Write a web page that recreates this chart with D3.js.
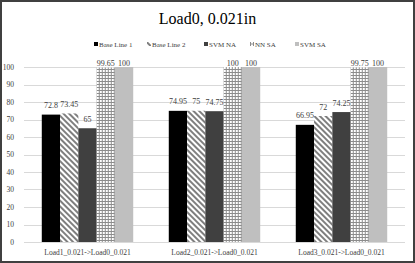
<!DOCTYPE html>
<html>
<head>
<meta charset="utf-8">
<script src="https://cdn.jsdelivr.net/npm/d3@7/dist/d3.min.js"></script>
<style>
  body { margin: 0; background: #fff; }
  svg { display: block; }
</style>
</head>
<body>
<svg width="415" height="263" font-family="'Liberation Serif', 'Times New Roman', serif"></svg>
<script>
// chart data
const categories = ["Load1_0.021->Load0_0.021", "Load2_0.021->Load0_0.021", "Load3_0.021->Load0_0.021"]
const seriesNames = ["Base Line 1", "Base Line 2", "SVM NA", "NN SA", "SVM SA"]
const baseLine1 = [72.8, 74.95, 66.95]
const baseLine2 = [73.45, 75, 72]
const svmNA = [65, 74.75, 74.25]
const nnSA = [99.65, 100, 99.75]
const svmSA = [100, 100, 100]
const yTicks = [0, 10, 20, 30, 40, 50, 60, 70, 80, 90, 100]

const seriesValues = [baseLine1, baseLine2, svmNA, nnSA, svmSA]
const fills = ["#000000", "url(#diag)", "#404040", "url(#grid)", "#bfbfbf"]

const W = 415, H = 263
const svg = d3.select("svg")

// patterns
const defs = svg.append("defs")
let diag = defs.append("pattern").attr("id", "diag")
    .attr("patternUnits", "userSpaceOnUse").attr("width", 4).attr("height", 4)
    .attr("patternTransform", "rotate(45)")
diag.append("rect").attr("width", 4).attr("height", 4).attr("fill", "#fff")
diag.append("rect").attr("width", 4).attr("height", 2).attr("fill", "#7f7f7f")

let grid = defs.append("pattern").attr("id", "grid")
    .attr("patternUnits", "userSpaceOnUse").attr("width", 3).attr("height", 3)
grid.append("rect").attr("width", 3).attr("height", 3).attr("fill", "#fff")
grid.append("rect").attr("width", 1).attr("height", 3).attr("fill", "#8c8c8c")
grid.append("rect").attr("width", 3).attr("height", 1).attr("fill", "#8c8c8c")

// frame
svg.append("rect").attr("x", 1).attr("y", 1).attr("width", W - 2).attr("height", H - 2)
    .attr("fill", "#fff").attr("stroke", "#404040").attr("stroke-width", 2)

// scales
const x0 = d3.scaleBand().domain(categories).range([24, 405]).paddingInner(0.28).paddingOuter(0.14)
const x1 = d3.scaleBand().domain(seriesNames).range([0, x0.bandwidth()])
const y = d3.scaleLinear().domain([0, 100]).range([242, 67])

// gridlines
svg.append("g").selectAll("line").data(yTicks).enter()
    .append("line")
    .attr("x1", 24).attr("x2", 405)
    .attr("y1", d => Math.round(y(d)) + 0.5).attr("y2", d => Math.round(y(d)) + 0.5)
    .attr("stroke", "#d9d9d9").attr("stroke-width", 1)

// y labels
svg.append("g").selectAll("text").data(yTicks).enter()
    .append("text")
    .attr("x", 14).attr("y", d => y(d) + 2.5)
    .attr("text-anchor", "end").attr("font-size", 7.5).attr("fill", "#404040")
    .text(d => d)

// bars
const groups = svg.append("g").selectAll("g").data(categories).enter()
    .append("g").attr("transform", d => "translate(" + x0(d) + ",0)")

groups.each(function(cat, ci) {
    let g = d3.select(this)
    seriesNames.forEach((s, si) => {
        let v = seriesValues[si][ci]
        g.append("rect")
            .attr("x", x1(s)).attr("y", y(v))
            .attr("width", x1.bandwidth()).attr("height", y(0) - y(v))
            .attr("fill", fills[si])
        // labels near the top get pushed down like excel does
        g.append("text")
            .attr("x", x1(s) + x1.bandwidth() / 2).attr("y", Math.max(y(v) - 6.5, 65.5))
            .attr("text-anchor", "middle").attr("font-size", 8).attr("fill", "#404040")
            .text(v)
    })
})

// baseline
svg.append("line").attr("x1", 24).attr("x2", 405)
    .attr("y1", Math.round(y(0)) + 0.5).attr("y2", Math.round(y(0)) + 0.5)
    .attr("stroke", "#d9d9d9")

// category labels
svg.append("g").selectAll("text").data(categories).enter()
    .append("text")
    .attr("x", d => x0(d) + x0.bandwidth() / 2).attr("y", 255)
    .attr("text-anchor", "middle").attr("font-size", 7.5).attr("fill", "#404040")
    .text(d => d)

// title
svg.append("text").attr("x", W / 2).attr("y", 24)
    .attr("text-anchor", "middle").attr("font-size", 16).attr("fill", "#000")
    .text("Load0, 0.021in")

// legend
const legendX = [94, 147, 204, 250, 295]
const legend = svg.append("g").selectAll("g").data(seriesNames).enter()
    .append("g").attr("transform", (d, i) => "translate(" + legendX[i] + ",46.5)")
legend.append("rect").attr("x", 0).attr("y", -4.5).attr("width", 4).attr("height", 4)
    .attr("fill", (d, i) => fills[i])
legend.append("text").attr("x", 5).attr("y", 0).attr("font-size", 7).attr("fill", "#404040")
    .text(d => d)
</script>
</body>
</html>
